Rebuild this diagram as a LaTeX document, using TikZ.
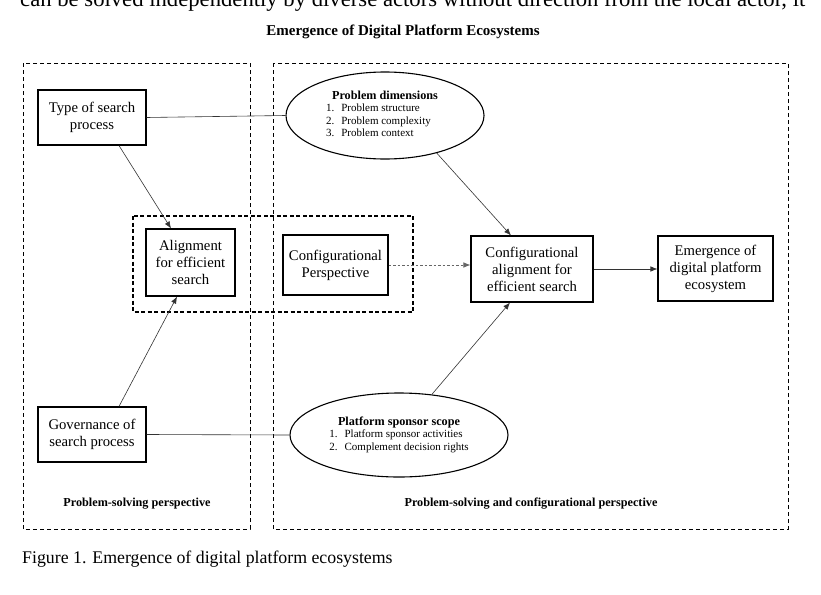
\documentclass[tikz,border=0pt]{standalone}
\usepackage{fontspec}
\setmainfont{Liberation Serif}
\usetikzlibrary{shapes.geometric,arrows.meta,calc}
\begin{document}
\begin{tikzpicture}[x=1pt,y=-1pt,
  box/.style={draw, line width=1.1pt, align=center, inner sep=0pt, font=\fontsize{14.7}{17}\selectfont},
  oval/.style={ellipse, draw, line width=1.1pt, inner sep=0pt, font=\fontsize{11}{12.5}\selectfont},
  zone/.style={draw, line width=0.8pt, dash pattern=on 4pt off 3pt},
  inzone/.style={draw, line width=1.1pt, dash pattern=on 4pt off 2.5pt},
  conn/.style={draw=black!80, line width=0.6pt},
  arr/.style={conn, -{Latex[length=7pt,width=5.5pt]}},
  dotarr/.style={draw=black!60, line width=0.7pt, dash pattern=on 2.5pt off 2pt, -{Latex[length=7pt,width=5.5pt]}},
  lbl/.style={font=\bfseries\fontsize{12.2}{14}\selectfont, inner sep=0pt}
]
\useasboundingbox (0,0) rectangle (821,594);
\clip (0,0) rectangle (821,594);
\fill[white] (0,0) rectangle (821,594);

% running text cut at the top
\node[anchor=base west, inner sep=0pt] (toptext) at (20,7)
  {\resizebox{785pt}{!}{can be solved independently by diverse actors without direction from the local actor, it}};

% title
\node[font=\bfseries\fontsize{15}{17}\selectfont, inner sep=0pt] (title) at (403,32) {Emergence of Digital Platform Ecosystems};

% zones
\draw[zone] (23,63) rectangle (250,529);
\draw[zone] (273,63) rectangle (788,529);
\draw[inzone] (133,216) rectangle (413,312);

% boxes
\node[box, minimum width=108pt, minimum height=55pt] (type) at (92,117.5) {Type of search\\process};
\node[box, minimum width=89pt, minimum height=67pt] (align) at (190.5,262.5) {Alignment\\for efficient\\search};
\node[box, minimum width=105pt, minimum height=60pt] (confp) at (335.5,265) {Configurational\\Perspective};
\node[box, minimum width=122pt, minimum height=66pt] (calign) at (532,269) {Configurational\\alignment for\\efficient search};
\node[box, minimum width=115pt, minimum height=65pt] (emerg) at (715.5,268.5) {Emergence of\\digital platform\\ecosystem};
\node[box, minimum width=108pt, minimum height=55pt] (gov) at (92,434.5) {Governance of\\search process};

% ellipses
\node[oval, minimum width=198pt, minimum height=87pt] (pdim) at (385,115.5)
  {\begin{tabular}{@{}r@{\hspace{7pt}}l@{}}
   \multicolumn{2}{c}{\bfseries\fontsize{12.2}{13}\selectfont Problem dimensions}\\
   1.&Problem structure\\
   2.&Problem complexity\\
   3.&Problem context
   \end{tabular}};
\node[oval, minimum width=218pt, minimum height=84pt] (pss) at (399,435)
  {\begin{tabular}{@{}r@{\hspace{7pt}}l@{}}
   \multicolumn{2}{c}{\bfseries\fontsize{12.2}{14}\selectfont Platform sponsor scope}\\
   1.&Platform sponsor activities\\
   2.&Complement decision rights
   \end{tabular}};

% connectors
\draw[conn] (type.east) -- (pdim.west);
\draw[conn] (gov.east) -- (pss.west);
\draw[arr] ([xshift=27pt]type.south) -- ([xshift=-19.5pt]align.north);
\draw[arr] ([xshift=27pt]gov.north) -- ([xshift=-13.5pt]align.south);
\draw[arr] (pdim.-36) -- ([xshift=-21pt]calign.north);
\draw[arr] (pss.51) -- ([xshift=-22pt]calign.south);
\draw[dotarr] (confp.east) -- (confp.east -| calign.west);
\draw[arr] (calign.east) -- (calign.east -| emerg.west);

% zone labels
\node[lbl] (lblps) at (137,504) {Problem-solving perspective};
\node[lbl] (lblpsc) at (531,504) {Problem-solving and configurational perspective};

% caption
\node[anchor=base west, inner sep=0pt, font=\fontsize{17.8}{20}\selectfont] (caption) at (22,563) {Figure 1. Emergence of digital platform ecosystems};
\end{tikzpicture}
\end{document}
